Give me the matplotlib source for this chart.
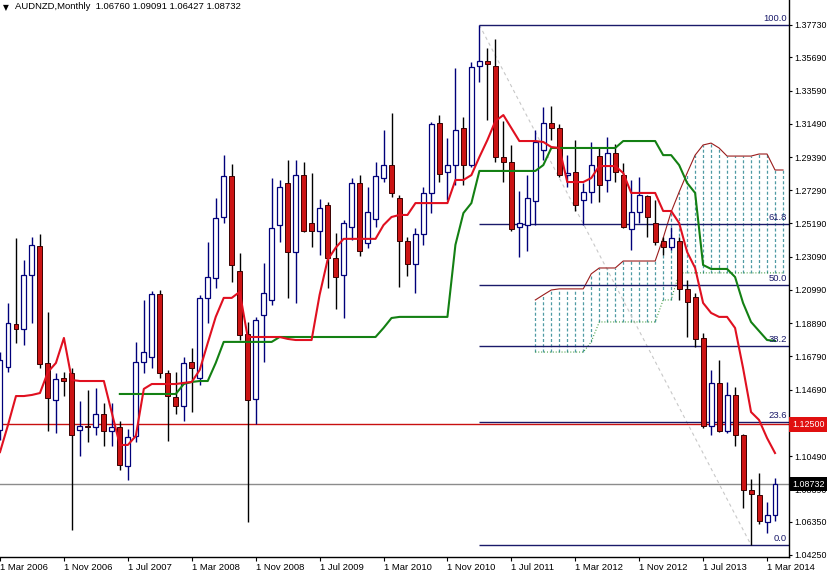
"""
AUDNZD monthly candles with Ichimoku lines, cloud and a Fibonacci retracement,
drawn in the look of a MetaTrader chart.
"""

import matplotlib
matplotlib.use("Agg")
import matplotlib.pyplot as plt
import numpy as np
import pandas as pd

# monthly bars, Mar 2006 .. Apr 2014
months = pd.period_range("2006-03", periods=98, freq="M")

opens = [1.1214, 1.1613, 1.1884, 1.1853, 1.2194, 1.2377, 1.1638, 1.1404, 1.1543, 1.1575,
         1.1214, 1.1240, 1.1233, 1.1316, 1.1208, 1.1233, 1.0987, 1.1177, 1.1644, 1.1676,
         1.2074, 1.1575, 1.1423, 1.1366, 1.1644, 1.1543, 1.2049, 1.2175, 1.2560, 1.2819,
         1.2219, 1.1821, 1.1410, 1.1941, 1.2036, 1.2509, 1.2775, 1.2339, 1.2825, 1.2522,
         1.2473, 1.2636, 1.2302, 1.2194, 1.2497, 1.2775, 1.2396, 1.2548, 1.2806, 1.2888,
         1.2680, 1.2409, 1.2263, 1.2453, 1.2712, 1.3154, 1.2844, 1.2888, 1.3122, 1.2888,
         1.3514, 1.3546, 1.3514, 1.2939, 1.2907, 1.2497, 1.2509, 1.2661, 1.2983, 1.3154,
         1.3122, 1.2825, 1.2844, 1.2667, 1.2718, 1.2945, 1.2794, 1.2964, 1.2825, 1.2484,
         1.2592, 1.2693, 1.2522, 1.2409, 1.2371, 1.2409, 1.2106, 1.2055, 1.1796, 1.1240,
         1.1512, 1.1208, 1.1436, 1.1183, 1.0835, 1.0803, 1.0633, 1.06760]
highs = [1.1707, 1.2017, 1.2428, 1.2289, 1.2434, 1.2453, 1.1960, 1.1575, 1.1581, 1.1606,
         1.1398, 1.1467, 1.1480, 1.1385, 1.1385, 1.1271, 1.1221, 1.1771, 1.2036, 1.2093,
         1.2099, 1.1594, 1.1581, 1.1676, 1.1733, 1.2068, 1.2403, 1.2680, 1.2951, 1.2895,
         1.2333, 1.1897, 1.1929, 1.2270, 1.2806, 1.2794, 1.2920, 1.2920, 1.2907, 1.2838,
         1.2674, 1.2655, 1.2459, 1.2541, 1.2806, 1.2825, 1.2749, 1.2907, 1.3110, 1.3217,
         1.2699, 1.2434, 1.2491, 1.2749, 1.3160, 1.3204, 1.3059, 1.3501, 1.3191, 1.3539,
         1.3773, 1.3628, 1.3685, 1.3166, 1.3015, 1.2724, 1.2825, 1.3110, 1.3255, 1.3261,
         1.3147, 1.2951, 1.3046, 1.2775, 1.3034, 1.3002, 1.3065, 1.3021, 1.2901, 1.2794,
         1.2813, 1.2699, 1.2667, 1.2434, 1.2497, 1.2434, 1.2162, 1.2080, 1.1827, 1.1594,
         1.1657, 1.1518, 1.1486, 1.1189, 1.0905, 1.0943, 1.0760, 1.09091]
lows = [1.1151, 1.1581, 1.1764, 1.1752, 1.1891, 1.1606, 1.1208, 1.1195, 1.1429, 1.0582,
        1.1050, 1.1138, 1.1183, 1.1113, 1.1113, 1.0962, 1.0898, 1.1138, 1.1575, 1.1606,
        1.1543, 1.1145, 1.1316, 1.1271, 1.1328, 1.1499, 1.1891, 1.2112, 1.2522, 1.2150,
        1.1783, 1.0633, 1.1252, 1.1644, 1.2004, 1.2403, 1.2049, 1.2017, 1.2466, 1.2371,
        1.2320, 1.2112, 1.1979, 1.1922, 1.2415, 1.2314, 1.2365, 1.2497, 1.2781, 1.2686,
        1.2118, 1.2188, 1.2080, 1.2384, 1.2585, 1.2781, 1.2667, 1.2762, 1.2762, 1.2876,
        1.3413, 1.3173, 1.2907, 1.2781, 1.2472, 1.2308, 1.2346, 1.2509, 1.2920, 1.3046,
        1.2813, 1.2749, 1.2598, 1.2509, 1.2648, 1.2655, 1.2718, 1.2781, 1.2491, 1.2352,
        1.2522, 1.2434, 1.2384, 1.2320, 1.2352, 1.2036, 1.1802, 1.1739, 1.1227, 1.1183,
        1.1200, 1.1195, 1.1113, 1.0721, 1.0488, 1.0620, 1.0563, 1.06427]
closes = [1.1657, 1.1891, 1.1853, 1.2194, 1.2384, 1.1632, 1.1417, 1.1537, 1.1524, 1.1183,
          1.1240, 1.1233, 1.1316, 1.1208, 1.1233, 1.0993, 1.1170, 1.1644, 1.1707, 1.2074,
          1.1575, 1.1429, 1.1366, 1.1638, 1.1606, 1.2049, 1.2181, 1.2554, 1.2819, 1.2257,
          1.1815, 1.1404, 1.1910, 1.2080, 1.2492, 1.2749, 1.2339, 1.2825, 1.2473, 1.2473,
          1.2617, 1.2302, 1.2181, 1.2522, 1.2775, 1.2346, 1.2592, 1.2819, 1.2888, 1.2712,
          1.2409, 1.2263, 1.2453, 1.2712, 1.3147, 1.2831, 1.2888, 1.3110, 1.2888, 1.3508,
          1.3546, 1.3527, 1.2939, 1.2907, 1.2484, 1.2522, 1.2680, 1.3034, 1.3154, 1.3122,
          1.2825, 1.2838, 1.2636, 1.2718, 1.2888, 1.2762, 1.2964, 1.2844, 1.2497, 1.2592,
          1.2699, 1.2560, 1.2403, 1.2371, 1.2428, 1.2106, 1.2023, 1.1790, 1.1240, 1.1512,
          1.1208, 1.1436, 1.1183, 1.0835, 1.0810, 1.0639, 1.0676, 1.08732]

# Ichimoku tenkan-sen (red), one value per bar
tenkan = [1.1075, 1.1246, 1.1429, 1.1429, 1.1436, 1.1448, 1.1581, 1.1638, 1.1796, 1.1530,
          1.1524, 1.1524, 1.1524, 1.1524, 1.1322, 1.1120, 1.1120, 1.1177, 1.1474, 1.1505,
          1.1505, 1.1505, 1.1505, 1.1512, 1.1518, 1.1594, 1.1764, 1.1929, 1.2049, 1.2049,
          1.2087, 1.1802, 1.1802, 1.1802, 1.1802, 1.1802, 1.1790, 1.1783, 1.1783, 1.1783,
          1.2068, 1.2289, 1.2365, 1.2422, 1.2422, 1.2422, 1.2422, 1.2422, 1.2509, 1.2560,
          1.2573, 1.2573, 1.2648, 1.2648, 1.2648, 1.2648, 1.2648, 1.2794, 1.2794, 1.2825,
          1.2939, 1.3046, 1.3166, 1.3204, 1.3122, 1.3040, 1.3040, 1.3040, 1.3034, 1.3002,
          1.2996, 1.2781, 1.2781, 1.2781, 1.2806, 1.2882, 1.2882, 1.2882, 1.2838, 1.2712,
          1.2712, 1.2712, 1.2712, 1.2598, 1.2598, 1.2522, 1.2339, 1.2238, 1.2017, 1.1954,
          1.1929, 1.1929, 1.1859, 1.1606, 1.1328, 1.1278, 1.1164, 1.1069]

# Ichimoku kijun-sen (green), starts at bar 15 (Jun 2007)
kijun_start = 15
kijun = [1.1442, 1.1442, 1.1442, 1.1442, 1.1442, 1.1442, 1.1442, 1.1442, 1.1505, 1.1518,
         1.1524, 1.1524, 1.1638, 1.1771, 1.1771, 1.1771, 1.1771, 1.1771, 1.1771, 1.1771,
         1.1802, 1.1802, 1.1802, 1.1802, 1.1802, 1.1802, 1.1802, 1.1802, 1.1802, 1.1802,
         1.1802, 1.1802, 1.1802, 1.1859, 1.1922, 1.1929, 1.1929, 1.1929, 1.1929, 1.1929,
         1.1929, 1.1929, 1.2384, 1.2585, 1.2648, 1.2851, 1.2851, 1.2851, 1.2851, 1.2851,
         1.2851, 1.2851, 1.2851, 1.2888, 1.2996, 1.2996, 1.2996, 1.2996, 1.2996, 1.2996,
         1.2996, 1.2996, 1.2996, 1.3040, 1.3040, 1.3040, 1.3040, 1.3040, 1.2951, 1.2951,
         1.2888, 1.2775, 1.2712, 1.2257, 1.2232, 1.2232, 1.2232, 1.2181, 1.2017, 1.1897,
         1.1840, 1.1783, 1.1777]

# Ichimoku cloud (senkou spans), starts at bar 67 (Oct 2011), runs one bar past the last candle
cloud_start = 67
cloud_top = [1.2036, 1.2068, 1.2099, 1.2106, 1.2106, 1.2106, 1.2106, 1.2201, 1.2238, 1.2238,
             1.2238, 1.2282, 1.2282, 1.2282, 1.2282, 1.2282, 1.2427, 1.2592, 1.2718, 1.2838,
             1.2951, 1.3015, 1.3027, 1.2996, 1.2945, 1.2945, 1.2945, 1.2945, 1.2958, 1.2958,
             1.2857, 1.2857]
cloud_bottom = [1.1707, 1.1707, 1.1707, 1.1707, 1.1707, 1.1707, 1.1707, 1.1771, 1.1897, 1.1897,
                1.1897, 1.1897, 1.1897, 1.1897, 1.1897, 1.1897, 1.2036, 1.2036, 1.2207, 1.2207,
                1.2207, 1.2207, 1.2207, 1.2207, 1.2207, 1.2207, 1.2207, 1.2207, 1.2207, 1.2207,
                1.2207, 1.2207]

# Fibonacci retracement from the Mar 2011 high to the Jan 2014 low
fib_high = 1.3773
fib_low = 1.0488
fib_start = 60
fib_end = 94
fib_levels = [0.0, 23.6, 38.2, 50.0, 61.8, 100.0]

support_level = 1.12500

price_ticks = [1.37730, 1.35690, 1.33590, 1.31490, 1.29390, 1.27290, 1.25190, 1.23090,
               1.20990, 1.18890, 1.16790, 1.14690, 1.10490, 1.08390, 1.06350, 1.04250]

FONT = "Liberation Sans"
FS = 6.8
FS_AXIS = 6.4
BULL_EDGE = "#00007a"
BEAR_FILL = "#cc1414"
NAVY = "#1a1a6a"


def draw_candles(ax):
    x = np.arange(len(closes))
    o = np.array(opens)
    c = np.array(closes)
    up = c >= o
    wick_cols = np.where(up, BULL_EDGE, "#000000")
    ax.vlines(x, lows, highs, colors=wick_cols, lw=1.0, zorder=3)

    bottoms = np.minimum(o, c)
    heights = np.maximum(np.abs(c - o), 0.0003)
    ax.bar(x[up], heights[up], bottom=bottoms[up], width=0.62,
           color="white", edgecolor=BULL_EDGE, lw=0.9, zorder=4)
    ax.bar(x[~up], heights[~up], bottom=bottoms[~up], width=0.62,
           color=BEAR_FILL, edgecolor="#3a0000", lw=0.7, zorder=4)


def draw_ichimoku(ax):
    xc = np.arange(cloud_start, cloud_start + len(cloud_top))
    ax.vlines(xc, cloud_bottom, cloud_top, colors="#4f9aa4", lw=0.9,
              linestyles=(0, (2.4, 1.8)), zorder=1)
    ax.plot(xc, cloud_top, color="#9a1c1c", lw=0.8, zorder=1.5)
    ax.plot(xc, cloud_bottom, color="#1e8a1e", lw=0.7, ls=(0, (1, 2)), zorder=1.5)

    xk = np.arange(kijun_start, kijun_start + len(kijun))
    ax.plot(xk, kijun, color="#138013", lw=1.5, zorder=5, solid_joinstyle="round")
    ax.plot(np.arange(len(tenkan)), tenkan, color="#e01020", lw=1.5, zorder=6,
            solid_joinstyle="round")


def draw_fibo(ax, x_right):
    rng = fib_high - fib_low
    ax.plot([fib_start, fib_end], [fib_high, fib_low], color="#c8c8c8", lw=0.8,
            ls=(0, (3, 3)), zorder=1)
    for lvl in fib_levels:
        price = fib_low + rng * lvl / 100.0
        ax.hlines(price, fib_start, x_right, colors=NAVY, lw=1.0, zorder=2)
        ax.text(0.997, price + 0.0012, f"{lvl:.1f}", transform=ax.get_yaxis_transform(),
                ha="right", va="bottom", color=NAVY, fontsize=FS, family=FONT, zorder=7)


def main():
    fig = plt.figure(figsize=(8.28, 5.73), dpi=100)
    ax = fig.add_axes([0, 16 / 573, 789 / 828, 557 / 573])

    x_left, x_right = 0.125, 98.75
    ax.set_xlim(x_left, x_right)
    ax.set_ylim(1.04122, 1.39309)

    draw_ichimoku(ax)
    draw_fibo(ax, x_right)

    last_price = closes[-1]
    ax.axhline(support_level, color="#c81010", lw=1.0, zorder=2)
    ax.axhline(last_price, color="#8c8c8c", lw=1.0, zorder=2)

    draw_candles(ax)

    # axes look
    for side in ["top", "left"]:
        ax.spines[side].set_visible(False)
    ax.spines["right"].set_linewidth(1.0)
    ax.spines["bottom"].set_linewidth(1.0)

    ax.yaxis.tick_right()
    ax.set_yticks(price_ticks)
    ax.set_yticklabels([f"{p:.5f}" for p in price_ticks])
    ax.tick_params(axis="y", direction="out", length=2.5, pad=1.2, labelsize=FS_AXIS)

    date_pos = np.arange(0, len(months), 8)
    ax.set_xticks(date_pos)
    ax.set_xticklabels([f"1 {months[i].strftime('%b %Y')}" for i in date_pos])
    ax.tick_params(axis="x", direction="out", length=3, pad=1.5, labelsize=FS)
    for lab in ax.get_xticklabels() + ax.get_yticklabels():
        lab.set_family(FONT)
    for lab in ax.get_xticklabels():
        lab.set_ha("left")

    # price boxes on the right scale
    ax.text(1.004, support_level, f"{support_level:.5f}", transform=ax.get_yaxis_transform(),
            ha="left", va="center", color="white", fontsize=FS_AXIS, family=FONT, zorder=10,
            clip_on=False, bbox=dict(boxstyle="square,pad=0.3", fc="#e01010", ec="none"))
    ax.text(1.004, last_price, f"{last_price:.5f}", transform=ax.get_yaxis_transform(),
            ha="left", va="center", color="white", fontsize=FS_AXIS, family=FONT, zorder=10,
            clip_on=False, bbox=dict(boxstyle="square,pad=0.3", fc="#000000", ec="none"))

    # header
    fig.text(3 / 828, 1 - 3 / 573, "\u25bc", fontsize=5.5, va="top", ha="left",
             family="DejaVu Sans", color="black")
    title = (f"AUDNZD,Monthly  {opens[-1]:.5f} {highs[-1]:.5f} "
             f"{lows[-1]:.5f} {closes[-1]:.5f}")
    fig.text(15 / 828, 1 - 2 / 573, title, fontsize=FS, va="top", ha="left",
             family=FONT, color="black")

    fig.savefig("out.png", dpi=100, facecolor="white")
    plt.close(fig)


if __name__ == "__main__":
    main()
